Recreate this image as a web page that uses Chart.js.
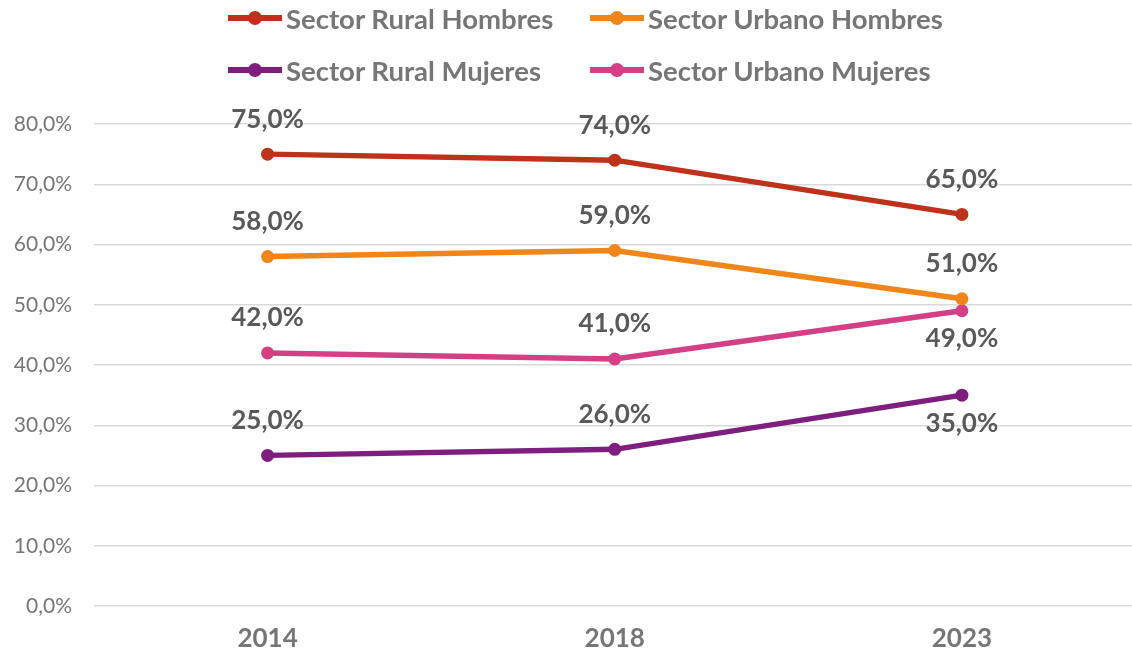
<!DOCTYPE html>
<html>
<head>
<meta charset="utf-8">
<script src="https://cdn.jsdelivr.net/npm/chart.js@4.4.1/dist/chart.umd.min.js"></script>
<style>
  html, body { margin: 0; padding: 0; background: #fff; overflow: hidden; width: 1132px; height: 658px; }
  #wrap { position: absolute; left: 0; top: 0; width: 1142px; height: 658px; }
  #legend { position: absolute; left: 0; top: 0; width: 1132px; height: 100px; font-family: Lato, sans-serif; font-weight: bold; font-size: 27.5px; color: #767676; }
  .item { position: absolute; display: flex; align-items: center; height: 30px; }
  .sw { position: relative; width: 54px; height: 6px; margin-right: 4px; }
  .sw span { position: absolute; left: 20px; top: -4px; width: 14px; height: 14px; border-radius: 50%; }
</style>
</head>
<body>
<div id="wrap"><canvas id="c"></canvas></div>
<div id="legend"></div>
<script>
const categories = ['2014', '2018', '2023'];
const seriesNames = ['Sector Rural Hombres', 'Sector Urbano Hombres', 'Sector Rural Mujeres', 'Sector Urbano Mujeres'];
const ruralHombres = [75, 74, 65];
const urbanoHombres = [58, 59, 51];
const ruralMujeres = [25, 26, 35];
const urbanoMujeres = [42, 41, 49];
const yTicks = [0, 10, 20, 30, 40, 50, 60, 70, 80];

const colors = ['#BE311A', '#F0861A', '#7E1F80', '#D43F86'];
const labelSide = [
  ['above', 'above', 'above'],
  ['above', 'above', 'above'],
  ['above', 'above', 'below'],
  ['above', 'above', 'below']
];
const seriesValues = [ruralHombres, urbanoHombres, ruralMujeres, urbanoMujeres];

const fmt = v => v.toFixed(1).replace('.', ',') + '%';

const dataLabels = {
  id: 'dataLabels',
  afterDatasetsDraw(chart) {
    const ctx = chart.ctx;
    ctx.save();
    ctx.font = 'bold 26px Lato, sans-serif';
    ctx.fillStyle = '#595959';
    ctx.textAlign = 'center';
    ctx.textBaseline = 'middle';
    chart.data.datasets.forEach((ds, i) => {
      const meta = chart.getDatasetMeta(i);
      meta.data.forEach((pt, j) => {
        const side = labelSide[i][j];
        const dy = side === 'above' ? -35 : 28;
        ctx.fillText(fmt(ds.data[j]), pt.x, pt.y + dy);
      });
    });
    ctx.restore();
  }
};

const chart = new Chart(document.getElementById('c'), {
  type: 'line',
  data: {
    labels: categories,
    datasets: seriesValues.map((vals, i) => ({
      label: seriesNames[i],
      data: vals,
      borderColor: colors[i],
      backgroundColor: colors[i],
      borderWidth: 5.5,
      pointRadius: 6.5,
      pointHoverRadius: 6.5,
      pointBorderWidth: 0,
      tension: 0
    }))
  },
  options: {
    responsive: true,
    maintainAspectRatio: false,
    animation: false,
    layout: { padding: { top: 124, bottom: 0, left: 0, right: 3 } },
    plugins: { legend: { display: false }, tooltip: { enabled: false } },
    scales: {
      x: {
        offset: true,
        afterFit(scale) { scale.height = 52; },
        grid: { display: false, drawTicks: false },
        border: { display: false },
        ticks: { color: '#767676', font: { family: 'Lato', weight: 'bold', size: 26 }, padding: 17 }
      },
      y: {
        min: 0, max: 80,
        afterBuildTicks(scale) { scale.ticks = yTicks.map(v => ({ value: v })); },
        afterFit(scale) { scale.width = 94; },
        grid: { color: '#D9D9D9', lineWidth: 1.5, drawTicks: false },
        border: { display: false },
        ticks: { color: '#767676', font: { family: 'Lato', size: 21 }, padding: 22, callback: v => fmt(v) }
      }
    }
  },
  plugins: [dataLabels]
});

// HTML legend (2x2 layout as in reference)
const legend = document.getElementById('legend');
const legendPos = [[228, 3], [590, 3], [228, 55], [590, 55]];
seriesNames.forEach((name, i) => {
  const it = document.createElement('div');
  it.className = 'item';
  it.style.left = legendPos[i][0] + 'px';
  it.style.top = legendPos[i][1] + 'px';
  it.innerHTML = '<div class="sw" style="background:' + colors[i] + '"><span style="background:' + colors[i] + '"></span></div><div>' + name + '</div>';
  legend.appendChild(it);
});
</script>
</body>
</html>
